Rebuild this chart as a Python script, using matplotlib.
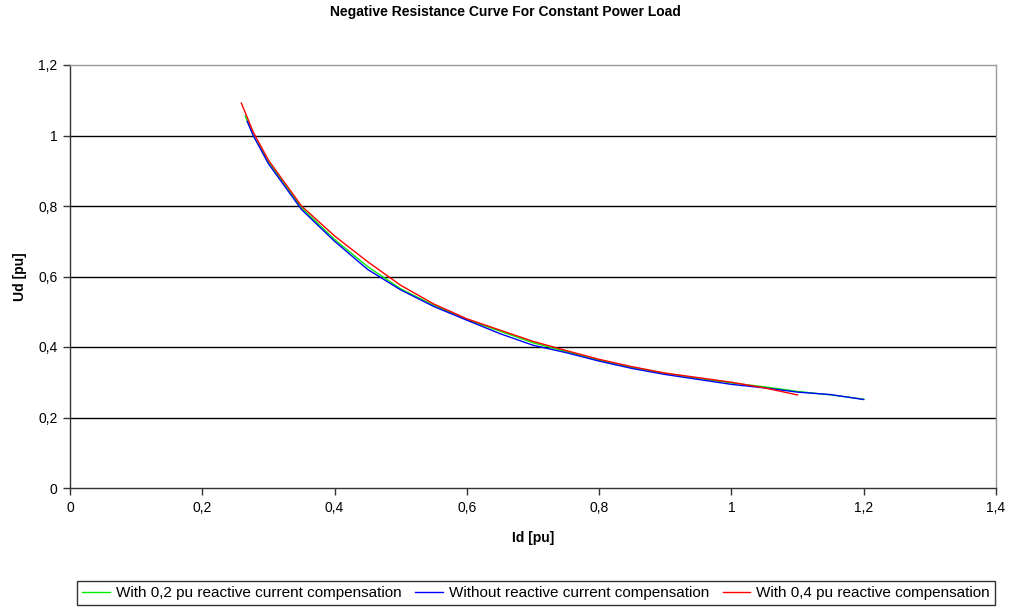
import matplotlib.pyplot as plt
from matplotlib.ticker import FuncFormatter

plt.rcParams["font.family"] = ["Liberation Sans", "DejaVu Sans"]

id_green = [0.265, 0.277, 0.30, 0.35, 0.40, 0.45, 0.50, 0.55, 0.60, 0.65,
            0.70, 0.75, 0.80, 0.85, 0.90, 0.95, 1.00, 1.05, 1.10, 1.15, 1.20]
ud_green = [1.055, 1.00, 0.925, 0.795, 0.705, 0.628, 0.565, 0.518, 0.478, 0.445,
            0.412, 0.387, 0.362, 0.342, 0.325, 0.311, 0.298, 0.287, 0.274, 0.264, 0.252]

id_blue = [0.268, 0.277, 0.30, 0.35, 0.40, 0.45, 0.50, 0.55, 0.60, 0.65,
           0.70, 0.75, 0.80, 0.85, 0.90, 0.95, 1.00, 1.05, 1.10, 1.15, 1.20]
ud_blue = [1.04, 1.00, 0.92, 0.79, 0.70, 0.62, 0.562, 0.515, 0.476, 0.438,
           0.405, 0.384, 0.360, 0.339, 0.322, 0.308, 0.294, 0.284, 0.272, 0.265, 0.251]

id_red = [0.259, 0.277, 0.30, 0.35, 0.40, 0.45, 0.50, 0.55, 0.60, 0.65,
          0.70, 0.75, 0.80, 0.85, 0.90, 0.95, 1.00, 1.05, 1.10]
ud_red = [1.092, 1.01, 0.93, 0.80, 0.715, 0.642, 0.575, 0.522, 0.480, 0.448,
          0.416, 0.390, 0.365, 0.344, 0.326, 0.313, 0.300, 0.284, 0.264]

labels = [
    "With 0,2 pu reactive current compensation",
    "Without reactive current compensation",
    "With 0,4 pu reactive compensation",
]

x_ticks = [0, 0.2, 0.4, 0.6, 0.8, 1.0, 1.2, 1.4]
y_ticks = [0, 0.2, 0.4, 0.6, 0.8, 1.0, 1.2]


def comma(v, _pos=None):
    s = f"{v:.1f}".rstrip("0").rstrip(".")
    return s.replace(".", ",")


fig = plt.figure(figsize=(10.09, 6.09), dpi=100)
ax = fig.add_axes([70 / 1009, 1 - 488 / 609, 926 / 1009, 423 / 609])

ax.plot(id_green, ud_green, color="#00ee00", linewidth=1, label=labels[0])
ax.plot(id_blue, ud_blue, color="#0000ff", linewidth=1, label=labels[1])
ax.plot(id_red, ud_red, color="#ff0000", linewidth=1, label=labels[2])

ax.set_xlim(0, 1.4)
ax.set_ylim(0, 1.2)
ax.set_xticks(x_ticks)
ax.set_yticks(y_ticks)
ax.xaxis.set_major_formatter(FuncFormatter(comma))
ax.yaxis.set_major_formatter(FuncFormatter(comma))
ax.tick_params(labelsize=10, length=5, width=1, color="#333333", pad=4)

for y in y_ticks[1:-1]:
    ax.axhline(y, color="black", linewidth=1, zorder=0)

ax.spines["top"].set_color("#999999")
ax.spines["right"].set_color("#999999")
ax.spines["left"].set_color("#333333")
ax.spines["bottom"].set_color("#333333")
for sp in ax.spines.values():
    sp.set_linewidth(1)

ax.set_xlabel("Id [pu]", fontsize=10, fontweight="bold", labelpad=12)
ax.set_ylabel("Ud [pu]", fontsize=10, fontweight="bold", labelpad=8)
fig.text(505 / 1009, 1 - 12 / 609, "Negative Resistance Curve For Constant Power Load",
         ha="center", va="center", fontsize=10, fontweight="bold")

leg = fig.legend(loc="center", bbox_to_anchor=(536 / 1009, 1 - 593 / 609), ncol=3,
                 frameon=True, fancybox=False, fontsize=11, handlelength=1.8,
                 handletextpad=0.4, columnspacing=0.9, borderpad=0.35)
leg.get_frame().set_edgecolor("black")
leg.get_frame().set_linewidth(1)

fig.savefig("out.png", dpi=100)
